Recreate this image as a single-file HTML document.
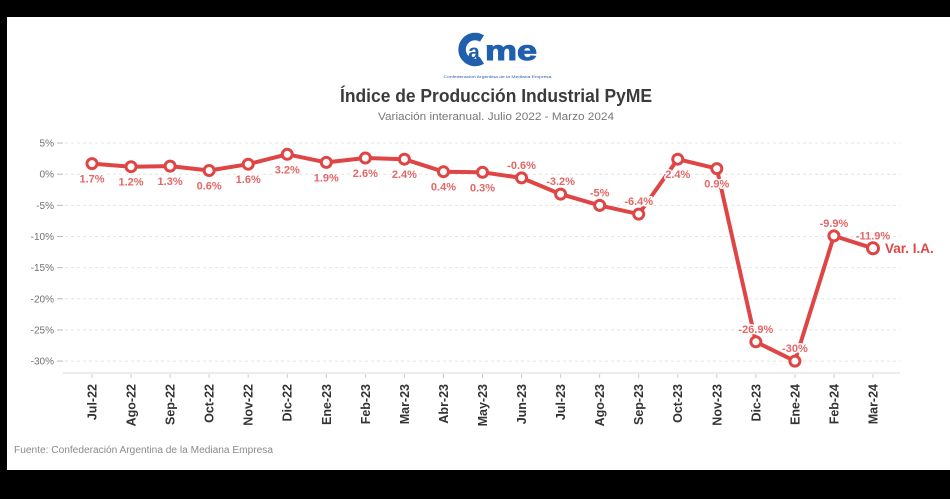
<!DOCTYPE html>
<html>
<head>
<meta charset="utf-8">
<style>
html,body{margin:0;padding:0;background:#000;}
body{width:950px;height:499px;overflow:hidden;}
svg{display:block;font-family:"Liberation Sans",sans-serif;}
</style>
</head>
<body>
<svg width="950" height="499" viewBox="0 0 950 499" xmlns="http://www.w3.org/2000/svg">
  <rect x="0" y="0" width="950" height="499" fill="#000"/>
  <rect x="7" y="17" width="943" height="453" fill="#fff"/>

  <!-- Logo -->
  <g>
    <path d="M482,38.5 A13,13 0 1 0 482,60.5" fill="none" stroke="#1f5fae" stroke-width="7.5"/>
    <text x="474" y="59" font-size="21" font-weight="bold" fill="#1f5fae" text-anchor="middle">a</text>
    <text x="485" y="60" font-size="28" font-weight="bold" fill="#1f5fae" stroke="#1f5fae" stroke-width="1" textLength="52" lengthAdjust="spacingAndGlyphs">me</text>
    <text x="497.5" y="78" font-size="4" fill="#1f5fae" text-anchor="middle" textLength="108" lengthAdjust="spacingAndGlyphs">Confederación Argentina de la Mediana Empresa</text>
  </g>

  <!-- Titles -->
  <text x="340" y="102" font-size="18" font-weight="bold" fill="#3b3b3b" textLength="312" lengthAdjust="spacingAndGlyphs">Índice de Producción Industrial PyME</text>
  <text x="378" y="120" font-size="11" fill="#777" textLength="236" lengthAdjust="spacingAndGlyphs">Variación interanual. Julio 2022 - Marzo 2024</text>

  <!-- Gridlines -->
  <g stroke="#e4e4e4" stroke-width="1" stroke-dasharray="3,3">
    <line x1="65" y1="143.05" x2="900" y2="143.05"/>
    <line x1="65" y1="174.2" x2="900" y2="174.2"/>
    <line x1="65" y1="205.35" x2="900" y2="205.35"/>
    <line x1="65" y1="236.5" x2="900" y2="236.5"/>
    <line x1="65" y1="267.65" x2="900" y2="267.65"/>
    <line x1="65" y1="298.8" x2="900" y2="298.8"/>
    <line x1="65" y1="329.95" x2="900" y2="329.95"/>
    <line x1="65" y1="361.1" x2="900" y2="361.1"/>
  </g>
  <g stroke="#bbb" stroke-width="1">
    <line x1="57" y1="143.05" x2="63" y2="143.05"/>
    <line x1="57" y1="174.2" x2="63" y2="174.2"/>
    <line x1="57" y1="205.35" x2="63" y2="205.35"/>
    <line x1="57" y1="236.5" x2="63" y2="236.5"/>
    <line x1="57" y1="267.65" x2="63" y2="267.65"/>
    <line x1="57" y1="298.8" x2="63" y2="298.8"/>
    <line x1="57" y1="329.95" x2="63" y2="329.95"/>
    <line x1="57" y1="361.1" x2="63" y2="361.1"/>
  </g>
  <line x1="63" y1="373" x2="900" y2="373" stroke="#e0e0e0" stroke-width="1.2"/>

  <!-- Y labels -->
  <g font-size="10" fill="#707070" text-anchor="end">
    <text x="54" y="146.5">5%</text>
    <text x="54" y="177.7">0%</text>
    <text x="54" y="208.8">-5%</text>
    <text x="54" y="240">-10%</text>
    <text x="54" y="271.1">-15%</text>
    <text x="54" y="302.3">-20%</text>
    <text x="54" y="333.4">-25%</text>
    <text x="54" y="364.6">-30%</text>
  </g>

  <!-- X ticks -->
  <g stroke="#ccc" stroke-width="1">
    <line x1="92" y1="374" x2="92" y2="378"/>
    <line x1="131.05" y1="374" x2="131.05" y2="378"/>
    <line x1="170.1" y1="374" x2="170.1" y2="378"/>
    <line x1="209.15" y1="374" x2="209.15" y2="378"/>
    <line x1="248.2" y1="374" x2="248.2" y2="378"/>
    <line x1="287.25" y1="374" x2="287.25" y2="378"/>
    <line x1="326.3" y1="374" x2="326.3" y2="378"/>
    <line x1="365.35" y1="374" x2="365.35" y2="378"/>
    <line x1="404.4" y1="374" x2="404.4" y2="378"/>
    <line x1="443.45" y1="374" x2="443.45" y2="378"/>
    <line x1="482.5" y1="374" x2="482.5" y2="378"/>
    <line x1="521.55" y1="374" x2="521.55" y2="378"/>
    <line x1="560.6" y1="374" x2="560.6" y2="378"/>
    <line x1="599.65" y1="374" x2="599.65" y2="378"/>
    <line x1="638.7" y1="374" x2="638.7" y2="378"/>
    <line x1="677.75" y1="374" x2="677.75" y2="378"/>
    <line x1="716.8" y1="374" x2="716.8" y2="378"/>
    <line x1="755.85" y1="374" x2="755.85" y2="378"/>
    <line x1="794.9" y1="374" x2="794.9" y2="378"/>
    <line x1="833.95" y1="374" x2="833.95" y2="378"/>
    <line x1="873" y1="374" x2="873" y2="378"/>
  </g>

  <!-- X labels -->
  <g font-size="12.5" font-weight="bold" fill="#333" text-anchor="end">
    <text transform="translate(96.5,384) rotate(-90)">Jul-22</text>
    <text transform="translate(135.5,384) rotate(-90)">Ago-22</text>
    <text transform="translate(174.6,384) rotate(-90)">Sep-22</text>
    <text transform="translate(213.6,384) rotate(-90)">Oct-22</text>
    <text transform="translate(252.7,384) rotate(-90)">Nov-22</text>
    <text transform="translate(291.7,384) rotate(-90)">Dic-22</text>
    <text transform="translate(330.8,384) rotate(-90)">Ene-23</text>
    <text transform="translate(369.8,384) rotate(-90)">Feb-23</text>
    <text transform="translate(408.9,384) rotate(-90)">Mar-23</text>
    <text transform="translate(447.9,384) rotate(-90)">Abr-23</text>
    <text transform="translate(487,384) rotate(-90)">May-23</text>
    <text transform="translate(526,384) rotate(-90)">Jun-23</text>
    <text transform="translate(565.1,384) rotate(-90)">Jul-23</text>
    <text transform="translate(604.1,384) rotate(-90)">Ago-23</text>
    <text transform="translate(643.2,384) rotate(-90)">Sep-23</text>
    <text transform="translate(682.2,384) rotate(-90)">Oct-23</text>
    <text transform="translate(721.3,384) rotate(-90)">Nov-23</text>
    <text transform="translate(760.3,384) rotate(-90)">Dic-23</text>
    <text transform="translate(799.4,384) rotate(-90)">Ene-24</text>
    <text transform="translate(838.4,384) rotate(-90)">Feb-24</text>
    <text transform="translate(877.5,384) rotate(-90)">Mar-24</text>
  </g>

  <!-- Series line -->
  <polyline fill="none" stroke="#e04545" stroke-width="4" stroke-linejoin="round"
    points="92,163.6 131.05,166.7 170.1,166.1 209.15,170.5 248.2,164.2 287.25,154.3 326.3,162.4 365.35,158 404.4,159.2 443.45,171.7 482.5,172.3 521.55,177.9 560.6,194.1 599.65,205.4 638.7,214.1 677.75,159.2 716.8,168.6 755.85,341.8 794.9,361.1 833.95,235.9 873,248.3"/>

  <!-- Data labels -->
  <g font-size="11" font-weight="bold" fill="#e46666" text-anchor="middle" stroke="#fff" stroke-width="3" paint-order="stroke" stroke-linejoin="round">
    <text x="92" y="182.6">1.7%</text>
    <text x="131.05" y="185.7">1.2%</text>
    <text x="170.1" y="185.1">1.3%</text>
    <text x="209.15" y="189.5">0.6%</text>
    <text x="248.2" y="183.2">1.6%</text>
    <text x="287.25" y="173.3">3.2%</text>
    <text x="326.3" y="181.4">1.9%</text>
    <text x="365.35" y="177">2.6%</text>
    <text x="404.4" y="178.2">2.4%</text>
    <text x="443.45" y="190.7">0.4%</text>
    <text x="482.5" y="191.3">0.3%</text>
    <text x="521.55" y="168.9">-0.6%</text>
    <text x="560.6" y="185.1">-3.2%</text>
    <text x="599.65" y="196.4">-5%</text>
    <text x="638.7" y="205.1">-6.4%</text>
    <text x="677.75" y="178.2">2.4%</text>
    <text x="716.8" y="187.6">0.9%</text>
    <text x="755.85" y="332.8">-26.9%</text>
    <text x="794.9" y="352.1">-30%</text>
    <text x="833.95" y="226.9">-9.9%</text>
    <text x="873" y="239.3">-11.9%</text>
  </g>

  <!-- Markers -->
  <g fill="#fff" stroke="#e04545" stroke-width="3">
    <circle cx="92" cy="163.6" r="5"/>
    <circle cx="131.05" cy="166.7" r="5"/>
    <circle cx="170.1" cy="166.1" r="5"/>
    <circle cx="209.15" cy="170.5" r="5"/>
    <circle cx="248.2" cy="164.2" r="5"/>
    <circle cx="287.25" cy="154.3" r="5"/>
    <circle cx="326.3" cy="162.4" r="5"/>
    <circle cx="365.35" cy="158" r="5"/>
    <circle cx="404.4" cy="159.2" r="5"/>
    <circle cx="443.45" cy="171.7" r="5"/>
    <circle cx="482.5" cy="172.3" r="5"/>
    <circle cx="521.55" cy="177.9" r="5"/>
    <circle cx="560.6" cy="194.1" r="5"/>
    <circle cx="599.65" cy="205.4" r="5"/>
    <circle cx="638.7" cy="214.1" r="5"/>
    <circle cx="677.75" cy="159.2" r="5"/>
    <circle cx="716.8" cy="168.6" r="5"/>
    <circle cx="755.85" cy="341.8" r="5"/>
    <circle cx="794.9" cy="361.1" r="5"/>
    <circle cx="833.95" cy="235.9" r="5"/>
    <circle cx="873" cy="248.3" r="5.5"/>
  </g>

  <text x="885" y="253" font-size="13.5" font-weight="bold" fill="#e04545">Var. I.A.</text>

  <!-- Footer -->
  <text x="14" y="453" font-size="10" fill="#8a8a8a" textLength="259" lengthAdjust="spacingAndGlyphs">Fuente: Confederación Argentina de la Mediana Empresa</text>
</svg>
</body>
</html>
